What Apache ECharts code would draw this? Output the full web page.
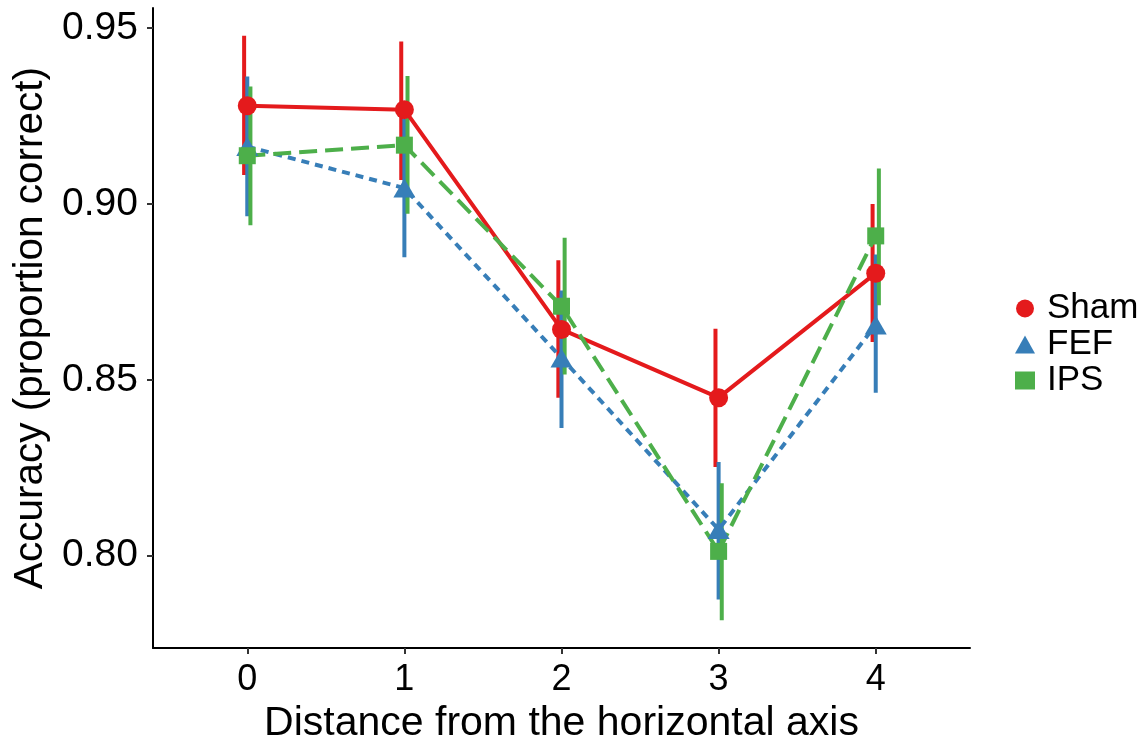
<!DOCTYPE html>
<html>
<head>
<meta charset="utf-8">
<script src="https://cdn.jsdelivr.net/npm/echarts@6/dist/echarts.min.js"></script>
<style>html,body{margin:0;padding:0;background:#fff;}#chart{width:1143px;height:749px;}</style>
</head>
<body>
<div id="chart"></div>
<script>
const distances = [0, 1, 2, 3, 4];
const groupNames = ['Sham', 'FEF', 'IPS'];
const shamMean = [0.9279, 0.9268, 0.8643, 0.8449, 0.8803];
const shamLow  = [0.9082, 0.9068, 0.8449, 0.8252, 0.8607];
const shamHigh = [0.9478, 0.9462, 0.8840, 0.8645, 0.9000];
const fefMean  = [0.9163, 0.9045, 0.8562, 0.8074, 0.8656];
const fefLow   = [0.8965, 0.8848, 0.8363, 0.7875, 0.8463];
const fefHigh  = [0.9362, 0.9242, 0.8754, 0.8266, 0.8856];
const ipsMean  = [0.9137, 0.9167, 0.8709, 0.8012, 0.8909];
const ipsLow   = [0.8939, 0.8972, 0.8515, 0.7816, 0.8712];
const ipsHigh  = [0.9334, 0.9364, 0.8904, 0.8206, 0.9101];
const yTicks = [0.80, 0.85, 0.90, 0.95];

const colors = ['#E41A1C', '#377EB8', '#4DAF4A'];
const symbols = ['circle', 'triangle', 'rect'];
const symbolSizes = [19, [22, 19], 17];
const dashes = ['solid', [8, 6], [18, 8]];
const dodge = [-0.02, 0, 0.02];
const means = [shamMean, fefMean, ipsMean];
const lows = [shamLow, fefLow, ipsLow];
const highs = [shamHigh, fefHigh, ipsHigh];
const FONT = 'Liberation Sans, Arial, sans-serif';

const series = [];
groupNames.forEach((g, i) => {
  series.push({
    name: g + ' error',
    type: 'custom',
    z: 1,
    silent: true,
    data: distances.map((d, k) => [d + dodge[i], lows[i][k], highs[i][k]]),
    renderItem: function (params, api) {
      const p1 = api.coord([api.value(0), api.value(1)]);
      const p2 = api.coord([api.value(0), api.value(2)]);
      return {
        type: 'line',
        shape: { x1: p1[0], y1: p1[1], x2: p2[0], y2: p2[1] },
        style: { stroke: colors[i], lineWidth: 4 }
      };
    },
    encode: { x: 0, y: [1, 2] }
  });
});
groupNames.forEach((g, i) => {
  series.push({
    name: g + ' line',
    type: 'line',
    z: 2,
    showSymbol: false,
    symbol: 'none',
    silent: true,
    data: distances.map((d, k) => [d, means[i][k]]),
    lineStyle: { color: colors[i], width: 4, type: dashes[i], cap: 'butt' }
  });
});
groupNames.forEach((g, i) => {
  series.push({
    name: g,
    type: 'scatter',
    z: 3,
    symbol: symbols[i],
    symbolSize: symbolSizes[i],
    itemStyle: { color: colors[i], opacity: 1 },
    data: distances.map((d, k) => [d, means[i][k]])
  });
});

const chart = echarts.init(document.getElementById('chart'));
chart.setOption({
  animation: false,
  backgroundColor: '#fff',
  color: colors,
  grid: { left: 153, right: 173, top: 8, bottom: 94, containLabel: false },
  legend: {
    orient: 'vertical',
    left: 1010,
    top: 286,
    itemGap: 1,
    itemWidth: 20,
    itemHeight: 18,
    data: groupNames.map((g, i) => ({ name: g, icon: symbols[i] })),
    textStyle: { fontFamily: FONT, fontSize: 35, color: '#000', lineHeight: 34, padding: [0, 0, 0, 7] }
  },
  xAxis: {
    type: 'value',
    min: -0.6,
    max: 4.6,
    name: 'Distance from the horizontal axis',
    nameLocation: 'middle',
    nameGap: 52,
    nameTextStyle: { fontFamily: FONT, fontSize: 41, color: '#000' },
    splitLine: { show: false },
    axisLine: { show: true, onZero: false, lineStyle: { color: '#000', width: 2 } },
    axisTick: { show: true, length: 6, lineStyle: { color: '#333', width: 2 }, customValues: distances },
    axisLabel: { fontFamily: FONT, fontSize: 36, color: '#000', margin: 14, customValues: distances, formatter: v => String(v) }
  },
  yAxis: {
    type: 'value',
    min: 0.7737,
    max: 0.9557,
    name: 'Accuracy (proportion correct)',
    nameLocation: 'middle',
    nameGap: 95,
    nameTextStyle: { fontFamily: FONT, fontSize: 40.5, color: '#000' },
    splitLine: { show: false },
    axisLine: { show: true, onZero: false, lineStyle: { color: '#000', width: 2 } },
    axisTick: { show: true, length: 6, lineStyle: { color: '#333', width: 2 }, customValues: yTicks },
    axisLabel: { fontFamily: FONT, fontSize: 39, color: '#000', margin: 15, customValues: yTicks, formatter: v => v.toFixed(2) }
  },
  series: series
});
</script>
</body>
</html>
